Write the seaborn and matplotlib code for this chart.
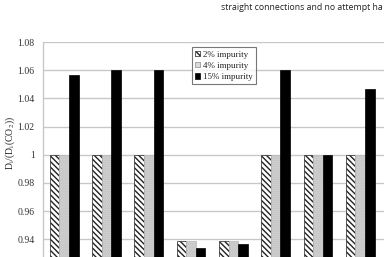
import matplotlib
matplotlib.use("Agg")
import matplotlib.pyplot as plt
import seaborn as sns
import pandas as pd

categories = ["C1", "C2", "C3", "C4", "C5", "C6", "C7", "C8"]
series_names = ["2% impurity", "4% impurity", "15% impurity"]
imp2 = [1.0, 1.0, 1.0, 0.9385, 0.9385, 1.0, 1.0, 1.0]
imp4 = [1.0, 1.0, 1.0, 0.9385, 0.9385, 1.0, 1.0, 1.0]
imp15 = [1.0565, 1.06, 1.06, 0.934, 0.937, 1.06, 0.9995, 1.0464]
ytick_vals = [0.94, 0.96, 0.98, 1.0, 1.02, 1.04, 1.06, 1.08]
ytick_labels = ["0.94", "0.96", "0.98", "1", "1.02", "1.04", "1.06", "1.08"]

rows = []
for name, vals in zip(series_names, [imp2, imp4, imp15]):
    for c, v in zip(categories, vals):
        rows.append({"cat": c, "series": name, "value": v})
df = pd.DataFrame(rows)

sns.set_style("white")
plt.rcParams["font.family"] = ["Liberation Serif", "DejaVu Serif"]
plt.rcParams["mathtext.fontset"] = "stix"
plt.rcParams["hatch.linewidth"] = 1.0

fig = plt.figure(figsize=(3.84, 2.57), dpi=100)
ax = fig.add_axes([43 / 384, 0.0, 1 - 43 / 384, 1 - 42 / 257])

palette = {"2% impurity": "white", "4% impurity": "#dadada", "15% impurity": "black"}
sns.barplot(data=df, x="cat", y="value", hue="series", palette=palette,
            width=0.68, ax=ax, zorder=2, saturation=1)

styles = {
    "2% impurity": dict(hatch="\\\\\\\\\\\\", edgecolor="#222222", lw=0.5),
    "4% impurity": dict(hatch="........", edgecolor="#b8b8b8", lw=0.5),
    "15% impurity": dict(hatch=None, edgecolor="black", lw=0.5),
}
for cont, name in zip(ax.containers, series_names):
    st = styles[name]
    for p in cont:
        p.set_hatch(st["hatch"])
        p.set_edgecolor(st["edgecolor"])
        p.set_linewidth(st["lw"])

ax.set_ylim(0.9275, 1.08)
ax.set_xlim(-0.5, -0.5 + 341 / 42.3)
ax.set_yticks(ytick_vals)
ax.set_yticklabels(ytick_labels, fontsize=7)
ax.set_xticks([])
ax.set_xlabel("")
ax.set_ylabel(r"D$_{\mathrm{i}}$/(D$_{\mathrm{i}}$(CO$_{2}$))", fontsize=7)
ax.yaxis.set_label_coords(-0.077, 0.53)
ax.yaxis.grid(True, color="#c8c8c8", linewidth=1.0, zorder=0)
ax.set_axisbelow(True)
for s in ["top", "right", "bottom"]:
    ax.spines[s].set_visible(False)
ax.spines["left"].set_color("#c8c8c8")
ax.spines["left"].set_linewidth(1.0)
ax.tick_params(axis="y", length=0, pad=6, colors="#333333")

handles, labels = ax.get_legend_handles_labels()
legend_edges = {"2% impurity": "#222222", "4% impurity": "#888888", "15% impurity": "black"}
for h, name in zip(handles, labels):
    st = styles[name]
    h.set_hatch(st["hatch"] if name != "4% impurity" else None)
    h.set_edgecolor(legend_edges[name])
    h.set_linewidth(0.5)
leg = ax.legend(handles, labels, loc="upper left", bbox_to_anchor=(0.436, 0.975),
                fontsize=6.5, frameon=True, fancybox=False, handlelength=0.6,
                handleheight=0.6, handletextpad=0.3, labelspacing=0.35,
                borderpad=0.35, borderaxespad=0)
leg.get_frame().set_edgecolor("#555555")
leg.get_frame().set_linewidth(0.8)

fig.text(383 / 384, 1 - 8 / 257, "straight connections and no attempt ha",
         fontsize=6.3, family=["Open Sans", "DejaVu Sans"], color="#222222",
         ha="right", va="center")

fig.savefig("out.png", dpi=100)
